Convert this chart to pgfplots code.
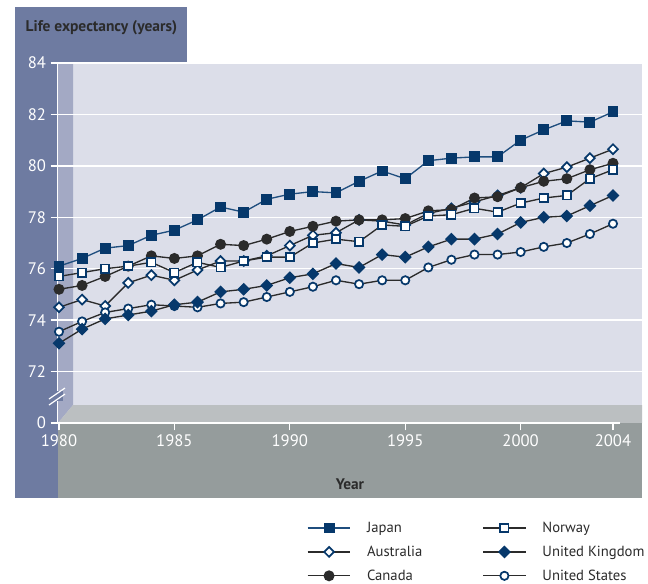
\documentclass[border=0pt]{standalone}
\usepackage{pgfplots}
\pgfplotsset{compat=1.18}
\usepackage{fontspec}
\setmainfont{PT Sans}

\definecolor{navy}{HTML}{06386B}
\definecolor{jline}{HTML}{1F4E7E}
\definecolor{dline}{HTML}{2B2B2B}
\definecolor{panel}{HTML}{6E7BA1}
\definecolor{plotbg}{HTML}{DCDEE9}
\definecolor{wall}{HTML}{A3A9C4}
\definecolor{floorc}{HTML}{BBBFC1}
\definecolor{xband}{HTML}{959C9C}

% one table per country, years 1980-2004
\pgfplotstableread{
year japan norway australia uk canada us
1980 76.10 75.70 74.50 73.10 75.20 73.55
1981 76.40 75.85 74.80 73.65 75.35 73.95
1982 76.80 76.00 74.55 74.05 75.70 74.30
1983 76.90 76.10 75.45 74.20 76.10 74.45
1984 77.30 76.25 75.75 74.35 76.50 74.60
1985 77.50 75.85 75.55 74.60 76.40 74.55
1986 77.90 76.25 75.95 74.70 76.50 74.50
1987 78.40 76.05 76.30 75.10 76.95 74.65
1988 78.20 76.30 76.30 75.20 76.90 74.70
1989 78.70 76.45 76.50 75.35 77.15 74.90
1990 78.90 76.45 76.90 75.65 77.45 75.10
1991 79.00 77.00 77.30 75.80 77.65 75.30
1992 78.95 77.15 77.40 76.20 77.85 75.55
1993 79.40 77.05 77.90 76.05 77.90 75.40
1994 79.80 77.70 77.85 76.55 77.90 75.55
1995 79.50 77.65 77.70 76.45 77.95 75.55
1996 80.20 78.05 78.15 76.85 78.25 76.05
1997 80.30 78.10 78.35 77.15 78.30 76.35
1998 80.35 78.35 78.60 77.15 78.75 76.55
1999 80.35 78.20 78.85 77.35 78.80 76.55
2000 81.00 78.55 79.15 77.80 79.15 76.65
2001 81.40 78.75 79.70 78.00 79.40 76.85
2002 81.75 78.85 79.95 78.05 79.50 77.00
2003 81.70 79.50 80.30 78.45 79.85 77.35
2004 82.10 79.85 80.65 78.85 80.10 77.75
}\life

\pgfplotsset{
  jp/.style={color=jline, line width=1pt, mark=square*, mark size=3.6pt,
    mark options={solid, fill=navy, draw=navy}},
  no/.style={color=dline, line width=1pt, mark=square*, mark size=3.1pt,
    mark options={solid, fill=white, draw=navy, line width=1.3pt}},
  au/.style={color=dline, line width=1pt, mark=square*, mark size=2.6pt,
    mark options={solid, rotate=45, fill=white, draw=navy, line width=1.3pt}},
  gb/.style={color=dline, line width=1pt, mark=square*, mark size=2.9pt,
    mark options={solid, rotate=45, fill=navy, draw=navy}},
  ca/.style={color=dline, line width=1pt, mark=*, mark size=3.6pt,
    mark options={solid, fill=dline, draw=dline}},
  us/.style={color=dline, line width=1pt, mark=*, mark size=3.1pt,
    mark options={solid, fill=white, draw=navy, line width=1.3pt}},
}

\begin{document}
\begin{tikzpicture}
\begin{scope}[x=0.75pt, y=-0.75pt]
  \fill[white] (0,0) rectangle (648,581);
  \fill[panel] (15,7) rectangle (58,498);
  \fill[panel] (15,7) rectangle (187,63);
  \fill[plotbg] (58,63) rectangle (642,423);
  \fill[wall] (58,63) -- (73,63) -- (73,405) -- (58,423) -- cycle;
  \fill[floorc] (58,423) -- (73,405) -- (642,405) -- (642,423) -- cycle;
  \fill[xband] (58,423) rectangle (642,498);
  \draw[white, line width=1.1pt] (57.5,63) -- (57.5,423) -- (620,423);
  \fill[panel] (52,391) rectangle (63,401);
  \draw[white, line width=0.9pt] (49,405) -- (65,394) (49,399) -- (65,388);
  \node[anchor=west, text=dline, font=\fontsize{11.6}{13}\selectfont\bfseries]
    at (21,28) {Life expectancy (years)};
\end{scope}

\begin{axis}[
  at={(43.5pt,-317.25pt)}, anchor=south west,
  scale only axis, width=438pt, height=270pt,
  xmin=1979.957, xmax=2005.257, ymin=70, ymax=84,
  axis line style={draw=none},
  clip=false,
  tick pos=left,
  xtick={1980,1985,1990,1995,2000,2004},
  ytick={72,74,...,84},
  extra y ticks={70}, extra y tick labels={0},
  extra tick style={grid=none},
  ymajorgrids, major grid style={white, line width=1.1pt},
  tick style={white, line width=1pt},
  tick align=outside, major tick length=5.5pt,
  /pgf/number format/1000 sep={},
  /pgf/number format/assume math mode=true,
  ticklabel style={text=white, font=\fontsize{12.5}{14}\selectfont},
  xlabel={Year},
  xlabel style={at={(axis description cs:0.5,0)}, anchor=center, yshift=-46pt,
    text=dline, font=\fontsize{11.5}{13}\selectfont\bfseries},
  legend columns=2,
  legend cell align=left,
  legend entries={Japan, Norway, Australia, United Kingdom, Canada, United States},
  legend image code/.code={\draw[mark repeat=2, mark phase=2]
    plot coordinates {(0pt,0pt) (16pt,0pt) (32pt,0pt)};},
  legend style={at={(axis description cs:0.426,-0.27)}, anchor=north west,
    draw=none, fill=none, inner sep=0pt, row sep=6.6pt,
    font=\fontsize{11}{13}\selectfont, text=dline,
    nodes={inner sep=1pt},
    /tikz/every even column/.append style={column sep=44pt},
    /tikz/every odd column/.append style={column sep=11pt}},
]
\addlegendimage{jp}
\addlegendimage{no}
\addlegendimage{au}
\addlegendimage{gb}
\addlegendimage{ca}
\addlegendimage{us}

\addplot[jp, forget plot] table[x=year, y=japan] {\life};
\addplot[au, forget plot] table[x=year, y=australia] {\life};
\addplot[ca, forget plot] table[x=year, y=canada] {\life};
\addplot[no, forget plot] table[x=year, y=norway] {\life};
\addplot[us, forget plot] table[x=year, y=us] {\life};
\addplot[gb, forget plot] table[x=year, y=uk] {\life};
\end{axis}
\end{tikzpicture}
\end{document}
